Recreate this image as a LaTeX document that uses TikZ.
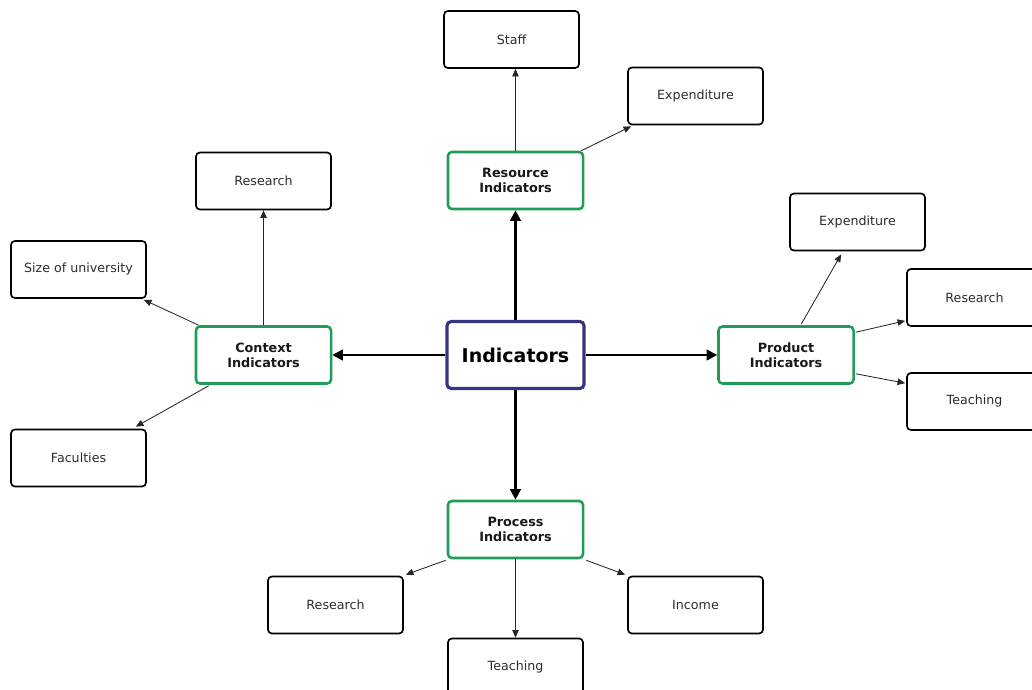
\documentclass[tikz,border=0pt]{standalone}
\usepackage{fontspec}
\setmainfont{DejaVu Sans}
\usetikzlibrary{arrows.meta,calc}
\definecolor{hubblue}{RGB}{52,52,130}
\definecolor{catgreen}{RGB}{32,156,88}
\definecolor{txtgrey}{RGB}{45,45,45}
\begin{document}
\begin{tikzpicture}[x=0.025cm,y=-0.025cm,
  leaf/.style={draw=black,line width=1.2pt,rounded corners=2.8pt,
    minimum width=3.375cm,minimum height=1.425cm,inner sep=0pt,
    text=txtgrey,font=\fontsize{9}{10.6}\selectfont},
  category/.style={draw=catgreen,line width=1.8pt,rounded corners=2.8pt,
    minimum width=3.375cm,minimum height=1.425cm,inner sep=0pt,align=center,
    text=black!90,font=\bfseries\fontsize{9.1}{10.6}\selectfont},
  hub/.style={draw=hubblue,line width=2.2pt,rounded corners=3pt,
    minimum width=3.425cm,minimum height=1.675cm,inner sep=0pt,
    text=black,font=\bfseries\fontsize{13.5}{16}\selectfont},
  major/.style={line width=1.8pt,-{Triangle[length=7.5pt,width=7.5pt]}},
  minor/.style={line width=0.6pt,draw=black!85,-{Triangle[length=5.4pt,width=4.6pt]}}]

\useasboundingbox (0,0) rectangle (1032,690);
\clip (0,0) rectangle (1032,690);

% central hub
\node[hub] (ind) at (515.5,355) {Indicators};

% the four indicator groups
\node[category] (res)  at (515.5,180.5) {Resource\\Indicators};
\node[category] (ctx)  at (263.5,355)   {Context\\Indicators};
\node[category] (prod) at (786,355)     {Product\\Indicators};
\node[category] (proc) at (515.5,529.5) {Process\\Indicators};

% resource items
\node[leaf] (staff) at (511.5,39.5) {Staff};
\node[leaf] (exp1)  at (695.5,96)   {Expenditure};

% context items
\node[leaf] (rs1)  at (263.5,181)  {Research};
\node[leaf] (size) at (78.5,269.5) {Size of university};
\node[leaf] (fac)  at (78.5,458)   {Faculties};

% product items
\node[leaf] (exp2) at (857.5,222)   {Expenditure};
\node[leaf] (rs2)  at (974.5,297.5) {Research};
\node[leaf] (te2)  at (974.5,401.5) {Teaching};

% process items
\node[leaf] (rs3) at (335.5,605) {Research};
\node[leaf] (inc) at (695.5,605) {Income};
\node[leaf] (te3) at (515.5,667) {Teaching};

% hub to groups
\draw[major] (ind.north) -- (res.south);
\draw[major] (ind.west)  -- (ind.west -| ctx.east);
\draw[major] (ind.east)  -- (ind.east -| prod.west);
\draw[major] (ind.south) -- (proc.north);

% resource links
\draw[minor] (res.north) -- (res.north |- staff.south);
\draw[minor] ($(res.north east)+(-3,0)$) -- ($(exp1.south west)+(4,1)$);

% context links
\draw[minor] (ctx.north) -- (ctx.north |- rs1.south);
\draw[minor] ($(ctx.north west)+(4,0)$) -- ($(size.south east)+(-3,1)$);
\draw[minor] ($(ctx.south west)+(14,1)$) -- ($(fac.north east)+(-11,-2)$);

% product links
\draw[minor] ($(prod.north west)+(84,-1)$) -- ($(exp2.south west)+(52,3)$);
\draw[minor] ($(prod.north east)+(1,7)$) -- ($(rs2.south west)+(-1,-6)$);
\draw[minor] ($(prod.south east)+(1,-11)$) -- ($(te2.north west)+(-1,11)$);

% process links
\draw[minor] ($(proc.south west)+(-1,1)$) -- ($(rs3.north east)+(2,-1)$);
\draw[minor] (proc.south) -- (te3.north);
\draw[minor] ($(proc.south east)+(2,1)$) -- ($(inc.north west)+(-2,-1)$);
\end{tikzpicture}
\end{document}
